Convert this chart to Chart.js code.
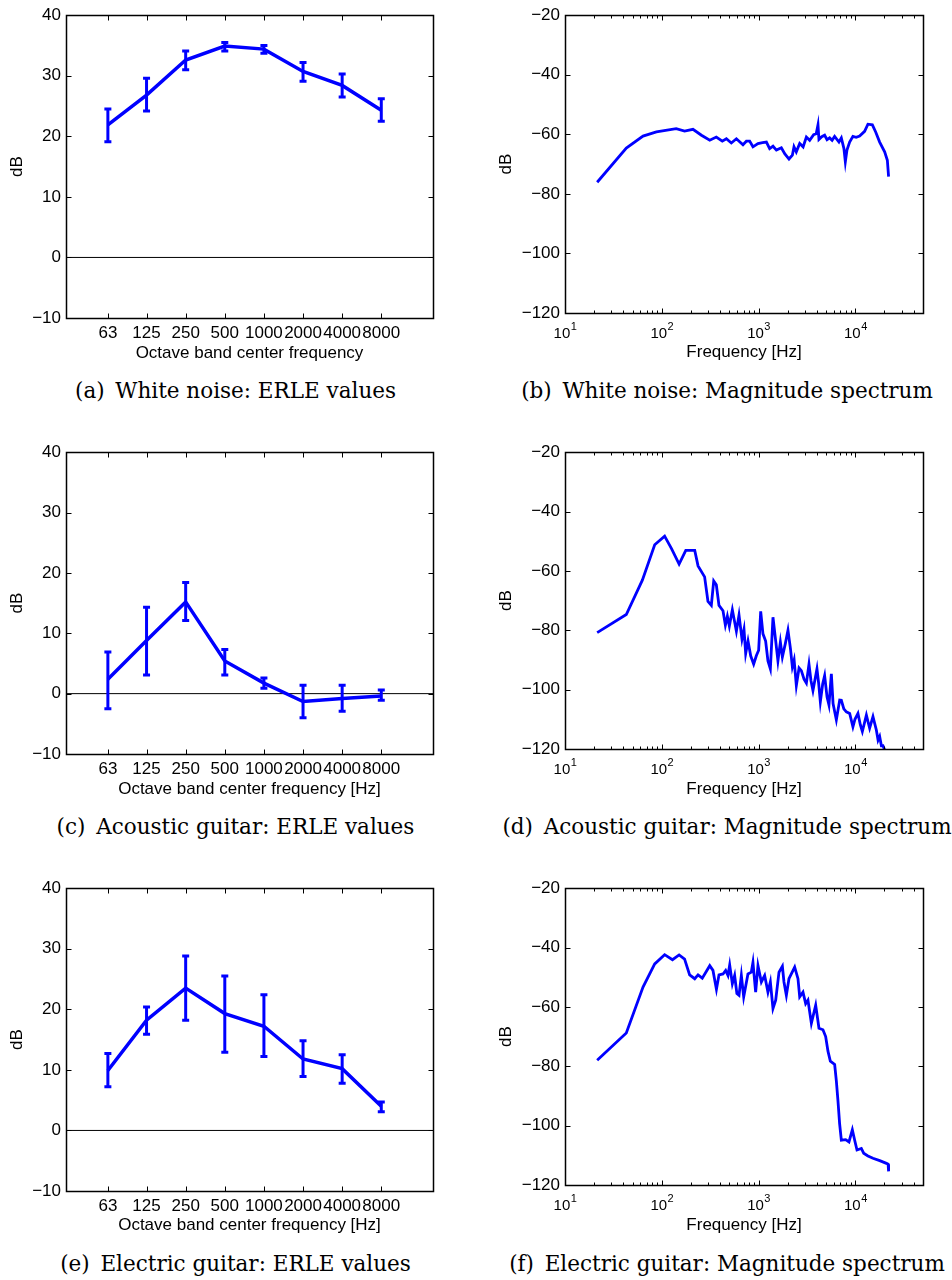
<!DOCTYPE html>
<html>
<head>
<meta charset="utf-8">
<script src="https://cdn.jsdelivr.net/npm/chart.js@4.4.0/dist/chart.umd.min.js"></script>
<style>
  html, body { margin: 0; padding: 0; background: #fff; }
  body { width: 952px; height: 1280px; position: relative; overflow: hidden; }
  canvas.panel { position: absolute; }
  .cap { position: absolute; width: 480px; font-family: "DejaVu Serif", serif; font-size: 21.5px;
         line-height: 24px; text-align: center; white-space: nowrap; color: #000; }
</style>
</head>
<body>
<script>
// ---------- ERLE per octave band ----------
const octaveBands = [63, 125, 250, 500, 1000, 2000, 4000, 8000];

const whiteErleMean = [21.9, 26.8, 32.6, 34.9, 34.4, 30.7, 28.4, 24.3];
const whiteErleLow  = [19.1, 24.2, 31.0, 34.1, 33.7, 29.1, 26.5, 22.5];
const whiteErleHigh = [24.5, 29.6, 34.1, 35.5, 35.0, 32.2, 30.3, 26.2];

const acousticErleMean = [2.4, 8.8, 15.2, 5.4, 1.75, -1.3, -0.8, -0.4];
const acousticErleLow  = [-2.5, 3.1, 12.1, 3.1, 0.9, -4.0, -2.9, -1.1];
const acousticErleHigh = [6.9, 14.3, 18.4, 7.3, 2.6, 1.4, 1.4, 0.6];

const electricErleMean = [9.9, 18.2, 23.5, 19.3, 17.2, 11.8, 10.2, 4.0];
const electricErleLow  = [7.2, 15.9, 18.2, 12.9, 12.2, 8.9, 7.8, 3.1];
const electricErleHigh = [12.7, 20.4, 28.8, 25.5, 22.4, 14.8, 12.5, 4.7];

const erleTicks = [-10, 0, 10, 20, 30, 40];

// ---------- magnitude spectra ----------
const whiteFreq = [21.5, 43, 64, 88, 141, 172, 210, 257, 313, 366, 422, 465, 523, 590, 690, 748, 809, 875, 986,
  1100, 1205, 1302, 1410, 1528, 1720, 1862, 2063, 2235, 2323, 2454, 2661, 2886, 3118, 3373, 3707, 3940, 4111,
  4207, 4500, 4815, 5100, 5425, 5750, 6105, 6770, 7164, 7620, 7880, 8190, 8730, 9440, 10200, 11070, 12460,
  13490, 14990, 16220, 17830, 20080, 21410, 22050];
const whiteDb = [-76.1, -64.6, -60.6, -59.2, -58.1, -58.9, -58.3, -60.3, -62.0, -60.9, -62.3, -61.5, -62.9, -61.5,
  -63.5, -62.3, -62.3, -64.2, -63.1, -62.8, -62.6, -64.8, -64.0, -65.3, -64.5, -66.5, -68.3, -67.0, -64.2, -65.9,
  -63.1, -64.2, -60.9, -62.0, -60.1, -59.8, -56.8, -61.7, -60.8, -60.3, -61.8, -61.2, -62.0, -60.7, -62.6, -61.2,
  -64.8, -69.2, -65.3, -62.6, -60.7, -61.0, -60.6, -59.0, -56.6, -56.8, -59.2, -62.6, -65.9, -68.7, -74.2];

const acousticFreq = [21.5, 43, 63, 84.5, 107, 126, 151, 177, 219, 237, 277, 300, 325, 344, 366, 390, 429, 454,
  476, 499, 536, 590, 628, 674, 707, 736, 778, 829, 890, 948, 1002, 1052, 1110, 1183, 1250, 1324, 1409, 1503,
  1585, 1680, 1762, 1890, 2013, 2132, 2235, 2330, 2456, 2620, 2767, 2950, 3118, 3318, 3480, 3648, 4012, 4180,
  4348, 4600, 4815, 5100, 5337, 5650, 5884, 6362, 6890, 7164, 7600, 8070, 8740, 9440, 9900, 10640, 11270,
  11810, 13000, 14050, 15210, 16480, 17170, 17830, 18580, 19280, 20200, 22050];
const acousticDb = [-80.8, -74.7, -63.1, -51.2, -48.3, -52.5, -57.7, -53.1, -53.1, -58.3, -62.0, -70.3, -71.6,
  -63.4, -64.7, -71.6, -73.4, -78.3, -75.3, -78.6, -73.1, -80.3, -74.9, -83.0, -79.7, -87.8, -83.6, -88.6, -91.4,
  -88.6, -86.7, -73.6, -81.2, -83.6, -90.3, -93.0, -75.6, -83.6, -90.3, -84.0, -89.0, -84.5, -80.0, -86.0, -92.3,
  -90.0, -98.6, -92.7, -93.6, -96.5, -97.8, -91.4, -97.0, -100.3, -93.0, -98.0, -104.1, -98.0, -95.3, -102.5,
  -105.2, -94.7, -104.7, -110.2, -103.5, -103.6, -106.5, -107.5, -108.0, -112.5, -110.0, -108.0, -111.9, -114.1,
  -108.6, -113.0, -109.1, -113.6, -117.0, -115.8, -118.9, -118.9, -120.5, -121.5];

const electricFreq = [21.5, 43, 64, 84.5, 107, 129, 151, 172, 194, 219, 237, 262, 313, 338, 367, 390, 429, 457,
  483, 503, 536, 566, 597, 628, 664, 702, 777, 841, 875, 933, 986, 1069, 1156, 1250, 1324, 1409, 1503, 1626,
  1762, 1830, 1937, 2061, 2181, 2361, 2554, 2660, 2877, 3068, 3238, 3512, 3892, 4208, 4627, 4934, 5212, 5517,
  6113, 6362, 6610, 6880, 7165, 7940, 8590, 9310, 9840, 10400, 11530, 12190, 13500, 15200, 17860, 20940,
  21800, 22050];
const electricDb = [-78.0, -68.8, -53.3, -45.5, -42.4, -44.1, -42.5, -43.9, -49.2, -50.5, -49.2, -50.3, -46.1,
  -47.7, -54.1, -49.2, -48.9, -47.7, -49.4, -45.9, -52.2, -49.4, -55.5, -56.1, -49.4, -56.6, -48.9, -48.3, -45.0,
  -55.0, -46.1, -51.6, -49.4, -55.0, -51.6, -60.5, -57.7, -48.3, -46.3, -51.6, -56.1, -50.5, -48.9, -46.6, -50.5,
  -56.6, -55.0, -58.9, -57.7, -65.5, -59.4, -67.2, -67.7, -70.0, -74.9, -78.3, -79.4, -84.9, -91.6, -99.4,
  -104.9, -104.7, -105.5, -101.4, -104.9, -108.2, -107.7, -109.3, -110.2, -111.0, -111.8, -112.7, -113.0, -115.4];

const spectrumDecades = [10, 100, 1000, 10000];
const spectrumDecadeBase = '10';
const spectrumDecadeExp = ['1', '2', '3', '4'];
const spectrumTicks = [-120, -100, -80, -60, -40, -20];

// ---------- drawing helpers ----------
const BLUE = '#0000ff';
const SANS = '"Liberation Sans", Arial, sans-serif';
Chart.defaults.font.family = SANS;
Chart.defaults.font.size = 17;
Chart.defaults.color = '#000';

const minus = v => (v < 0 ? '\u2212' + Math.abs(v) : String(v));

// box on all four sides with inward ticks
const boxFrame = {
  id: 'boxFrame',
  afterDatasetsDraw(chart, args, opts) {
    const { ctx, chartArea: a } = chart;
    const xs = chart.scales.x, ys = chart.scales.y;
    const L = Math.round(a.left) + 0.5, R = Math.round(a.right) + 0.5;
    const T = Math.round(a.top) + 0.5, B = Math.round(a.bottom) + 0.5;
    ctx.save();
    ctx.strokeStyle = '#000';
    ctx.lineWidth = 1;
    ctx.beginPath();
    const major = 5, minor = 3;
    xs.ticks.forEach(t => {
      const p = Math.round(xs.getPixelForValue(t.value)) + 0.5;
      ctx.moveTo(p, B); ctx.lineTo(p, B - major);
      ctx.moveTo(p, T); ctx.lineTo(p, T + major);
    });
    (opts.minorX || []).forEach(v => {
      const p = Math.round(xs.getPixelForValue(v)) + 0.5;
      if (p <= L || p >= R) return;
      ctx.moveTo(p, B); ctx.lineTo(p, B - minor);
      ctx.moveTo(p, T); ctx.lineTo(p, T + minor);
    });
    ys.ticks.forEach(t => {
      const p = Math.round(ys.getPixelForValue(t.value)) + 0.5;
      ctx.moveTo(L, p); ctx.lineTo(L + major, p);
      ctx.moveTo(R, p); ctx.lineTo(R - major, p);
    });
    ctx.stroke();
    ctx.lineWidth = 1.5;
    ctx.strokeRect(L, T, R - L, B - T);
    ctx.restore();
  }
};

// decade labels "10" with a raised exponent, placed at the log scale's tick pixels
const decadeLabels = {
  id: 'decadeLabels',
  afterDraw(chart) {
    const { ctx, chartArea: a } = chart;
    const xs = chart.scales.x;
    ctx.save();
    ctx.fillStyle = '#000';
    ctx.textBaseline = 'middle';
    ctx.textAlign = 'left';
    spectrumDecades.forEach((v, i) => {
      const p = xs.getPixelForValue(v);
      ctx.font = '15px ' + SANS;
      const wb = ctx.measureText(spectrumDecadeBase).width;
      ctx.font = '11px ' + SANS;
      const we = ctx.measureText(spectrumDecadeExp[i]).width;
      const x0 = p - (wb + we) / 2;
      ctx.font = '15px ' + SANS;
      ctx.fillText(spectrumDecadeBase, x0, a.bottom + 20.5);
      ctx.font = '11px ' + SANS;
      ctx.fillText(spectrumDecadeExp[i], x0 + wb + 0.5, a.bottom + 14);
    });
    ctx.restore();
  }
};

function makeCanvas(box) {
  const c = document.createElement('canvas');
  c.className = 'panel';
  c.width = box.w; c.height = box.h;
  c.style.left = box.left + 'px'; c.style.top = box.top + 'px';
  c.style.width = box.w + 'px'; c.style.height = box.h + 'px';
  document.body.appendChild(c);
  return c;
}

function addCaption(text, centerX, top) {
  const d = document.createElement('div');
  d.className = 'cap';
  d.textContent = text;
  d.style.left = (centerX - 240) + 'px';
  d.style.top = top + 'px';
  document.body.appendChild(d);
}

function pairs(xs, ys) { return xs.map((x, i) => ({ x: x, y: ys[i] })); }

function errorBarPoints(low, high) {
  const pts = [];
  octaveBands.forEach((f, i) => {
    pts.push({ x: f, y: low[i] }, { x: f, y: high[i] }, { x: f, y: null });
  });
  return pts;
}

function baseOptions(box) {
  return {
    responsive: false, animation: false, events: [],
    layout: { padding: { top: box.padTop, right: box.padRight, left: 0, bottom: 0 } },
    plugins: { legend: { display: false }, tooltip: { enabled: false }, boxFrame: {} }
  };
}

const noGrid = { display: false, drawTicks: false };

function erleChart(box, mean, low, high, xTitle) {
  const opts = baseOptions(box);
  opts.scales = {
    x: {
      type: 'logarithmic', min: 30, max: 20000, bounds: 'data',
      grid: noGrid, border: { display: false },
      afterBuildTicks: s => { s.ticks = octaveBands.map(v => ({ value: v })); },
      afterFit: s => { s.height = box.xAxisH; },
      ticks: { autoSkip: false, maxRotation: 0, minRotation: 0, padding: 5.5, callback: v => String(v) },
      title: { display: true, text: xTitle, padding: 0 }
    },
    y: {
      type: 'linear', min: -10, max: 40, bounds: 'data',
      grid: noGrid, border: { display: false },
      afterBuildTicks: s => { s.ticks = erleTicks.map(v => ({ value: v })); },
      afterFit: s => { s.width = box.yAxisW; },
      ticks: { padding: 5, callback: minus },
      title: { display: true, text: 'dB', padding: { top: box.yTitlePad, bottom: 0 } }
    }
  };
  new Chart(makeCanvas(box), {
    type: 'line',
    data: {
      datasets: [
        { data: pairs(octaveBands, mean), borderColor: BLUE, borderWidth: 3.5, pointRadius: 0, tension: 0 },
        { data: errorBarPoints(low, high), borderColor: BLUE, borderWidth: 3, spanGaps: false,
          pointStyle: 'line', pointRadius: 3.5, pointBorderWidth: 3, pointBorderColor: BLUE },
        { data: [{ x: 30, y: 0 }, { x: 20000, y: 0 }], borderColor: '#000', borderWidth: 1, pointRadius: 0 }
      ]
    },
    options: opts,
    plugins: [boxFrame]
  });
}

// minor tick values on a log axis: 2..9 within every decade
function logMinors(lo, hi) {
  const out = [];
  for (let d = lo; d < hi; d *= 10) for (let k = 2; k <= 9; k++) out.push(k * d);
  return out;
}

function spectrumChart(box, freq, db) {
  const opts = baseOptions(box);
  opts.plugins.boxFrame = { minorX: logMinors(10, 100000) };
  opts.scales = {
    x: {
      type: 'logarithmic', min: 10, max: 50000, bounds: 'data',
      grid: noGrid, border: { display: false },
      afterBuildTicks: s => { s.ticks = spectrumDecades.map(v => ({ value: v })); },
      afterFit: s => { s.height = box.xAxisH; },
      ticks: { display: false, autoSkip: false },
      title: { display: true, text: 'Frequency [Hz]', padding: 0 }
    },
    y: {
      type: 'linear', min: -120, max: -20, bounds: 'data',
      grid: noGrid, border: { display: false },
      afterBuildTicks: s => { s.ticks = spectrumTicks.map(v => ({ value: v })); },
      afterFit: s => { s.width = box.yAxisW; },
      ticks: { padding: 5, callback: minus },
      title: { display: true, text: 'dB', padding: { top: box.yTitlePad, bottom: 0 } }
    }
  };
  new Chart(makeCanvas(box), {
    type: 'line',
    data: { datasets: [{ data: pairs(freq, db), borderColor: BLUE, borderWidth: 2.8, pointRadius: 0, tension: 0 }] },
    options: opts,
    plugins: [boxFrame, decadeLabels]
  });
}

// ---------- panel layout ----------
const leftCol  = { left: 0,   w: 446, yAxisW: 66, padRight: 13, yTitlePad: 7 };
const rightCol = { left: 470, w: 468, yAxisW: 95, padRight: 15, yTitlePad: 26.5 };

erleChart(Object.assign({}, leftCol, { top: 0, h: 364, padTop: 12, xAxisH: 46 }),
  whiteErleMean, whiteErleLow, whiteErleHigh, 'Octave band center frequency');
spectrumChart(Object.assign({}, rightCol, { top: 0, h: 363, padTop: 12, xAxisH: 50 }),
  whiteFreq, whiteDb);

erleChart(Object.assign({}, leftCol, { top: 437, h: 363, padTop: 12, xAxisH: 46 }),
  acousticErleMean, acousticErleLow, acousticErleHigh, 'Octave band center frequency [Hz]');
spectrumChart(Object.assign({}, rightCol, { top: 437, h: 363, padTop: 12, xAxisH: 51 }),
  acousticFreq, acousticDb);

erleChart(Object.assign({}, leftCol, { top: 873, h: 363, padTop: 12, xAxisH: 45 }),
  electricErleMean, electricErleLow, electricErleHigh, 'Octave band center frequency [Hz]');
spectrumChart(Object.assign({}, rightCol, { top: 873, h: 363, padTop: 12, xAxisH: 51 }),
  electricFreq, electricDb);

addCaption('(a)\u2002White noise: ERLE values', 235.5, 378.5);
addCaption('(b)\u2002White noise: Magnitude spectrum', 727, 378.5);
addCaption('(c)\u2002Acoustic guitar: ERLE values', 235.5, 815);
addCaption('(d)\u2002Acoustic guitar: Magnitude spectrum', 727, 815);
addCaption('(e)\u2002Electric guitar: ERLE values', 235.5, 1252);
addCaption('(f)\u2002Electric guitar: Magnitude spectrum', 727, 1252);
</script>
</body>
</html>
